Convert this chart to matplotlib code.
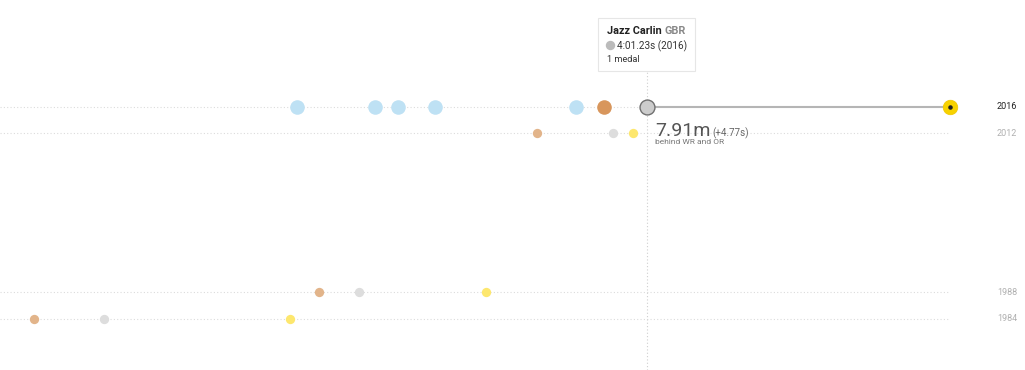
"""Women's 400m freestyle: distance behind the world record, by Olympic final."""

import matplotlib.pyplot as plt
from matplotlib.patches import Rectangle, Ellipse

# ---- data -------------------------------------------------------------
record_time = "3:56.46"   # WR and OR, Ledecky 2016

years = [2016, 2012, 1988, 1984]
gold_times = ["3:56.46", "4:01.45", "4:03.85", "4:07.10"]
silver_times = ["4:01.23", "4:01.77", "4:05.94", "4:10.27"]
bronze_times = ["4:01.92", "4:03.01", "4:06.62", "4:11.49"]
finalists_2016 = ["4:02.37", "4:04.69", "4:05.30", "4:05.68", "4:06.99"]

focus_name = "Jazz Carlin"
focus_country = "GBR"
focus_time = "4:01.23"
focus_year = 2016
focus_medals = "1 medal"


def to_seconds(t):
    m, s = t.split(":")
    return int(m) * 60 + float(s)


def metres_behind(t):
    """Distance still to swim when the record holder touches the wall."""
    return 400 * (1 - to_seconds(record_time) / to_seconds(t))


# ---- figure -----------------------------------------------------------
fig = plt.figure(figsize=(10.25, 3.7), dpi=100)
ax = fig.add_axes([0, 0, 1, 1])
ax.set_xlim(24.80, -1.96)
ax.set_ylim(1976.3, 2032.15)
ax.axis("off")

plt.rcParams["font.family"] = ["Roboto", "DejaVu Sans"]

GOLD = "#fde76e"
SILVER = "#dddddd"
BRONZE = "#e2b48a"
OTHER = "#bee1f4"

focus_x = metres_behind(focus_time)
x_left = ax.get_xlim()[0]

# dotted row guides
for yr in years:
    end = focus_x if yr == focus_year else 0
    ax.plot([x_left, end], [yr, yr], color="#dcdcdc", lw=0.8,
            ls=(0, (1, 2)), zorder=1)

# vertical guide through the focus swimmer
ax.plot([focus_x, focus_x], [1976.3, 2021.4], color="#cfcfcf", lw=0.8,
        ls=(0, (1, 2)), zorder=1)

# gap line from the focus swimmer to the record
ax.plot([focus_x, 0], [focus_year, focus_year], color="#b5b5b5", lw=1.5,
        zorder=2)

for yr, g, s, b in zip(years, gold_times, silver_times, bronze_times):
    if yr == focus_year:
        ax.scatter([metres_behind(t) for t in finalists_2016],
                   [yr] * len(finalists_2016), s=110, color=OTHER,
                   lw=0, zorder=3)
        ax.scatter(metres_behind(b), yr, s=110, color="#d8965c", lw=0,
                   zorder=3)
        ax.scatter(metres_behind(s), yr, s=115, color="#cccccc",
                   edgecolor="#707070", lw=1, zorder=4)
        ax.scatter(metres_behind(g), yr, s=110, color="#f7d200",
                   edgecolor="#f0c800", lw=0.5, zorder=4)
        ax.scatter(metres_behind(g), yr, s=5, color="#222222", zorder=5)
    else:
        ax.scatter(metres_behind(b), yr, s=45, color=BRONZE, lw=0, zorder=3)
        ax.scatter(metres_behind(s), yr, s=45, color=SILVER, lw=0, zorder=3)
        ax.scatter(metres_behind(g), yr, s=45, color=GOLD, lw=0, zorder=3)

# year labels on the right
label_x = ax.transData.inverted().transform((1007, 0))[0]
for yr in years:
    ax.text(label_x, yr, str(yr), ha="center", va="center", fontsize=6.5,
            color="#222222" if yr == focus_year else "#b0b0b0")

# gap annotation (both parts share a baseline)
gap_s = to_seconds(focus_time) - to_seconds(record_time)
big = ax.annotate(f"{focus_x:.2f}m", (focus_x, focus_year),
                  xytext=(6, -21), textcoords="offset points",
                  fontsize=14, color="#555555", va="baseline", ha="left")
fig.canvas.draw()
bb = big.get_window_extent(fig.canvas.get_renderer())
ax.annotate(f"(+{gap_s:.2f}s)", (focus_x, focus_year),
            xytext=(6 + (bb.width + 2) * 0.72, -21),
            textcoords="offset points", fontsize=7, color="#666666",
            va="baseline", ha="left")
ax.annotate("behind WR and OR", (focus_x, focus_year), xytext=(6, -25.5),
            textcoords="offset points", fontsize=6, color="#777777",
            va="center", ha="left")

# tooltip
fig.patches.append(Rectangle((598 / 1025, 1 - 71 / 370), 97 / 1025,
                             53 / 370, transform=fig.transFigure,
                             facecolor="white", edgecolor="#e6e6e6",
                             lw=0.8, zorder=10))
name = fig.text(607 / 1025, 1 - 31 / 370, focus_name, fontsize=7.8,
                fontweight="bold", color="#222222", va="center", zorder=11)
fig.canvas.draw()
nb = name.get_window_extent(fig.canvas.get_renderer())
fig.text((nb.x1 + 3) / 1025, 1 - 31 / 370, focus_country, fontsize=7.8,
         fontweight="bold", color="#888888", va="center", zorder=11)
fig.patches.append(Ellipse((610.5 / 1025, 1 - 45.5 / 370), 8 / 1025,
                           8 / 370, transform=fig.transFigure,
                           color="#bbbbbb", zorder=11))
fig.text(617 / 1025, 1 - 46 / 370, f"{focus_time}s ({focus_year})",
         fontsize=7.2, color="#333333", va="center", zorder=11)
fig.text(607 / 1025, 1 - 59 / 370, focus_medals, fontsize=6.6,
         color="#333333", va="center", zorder=11)

fig.savefig("out.png", dpi=100)
